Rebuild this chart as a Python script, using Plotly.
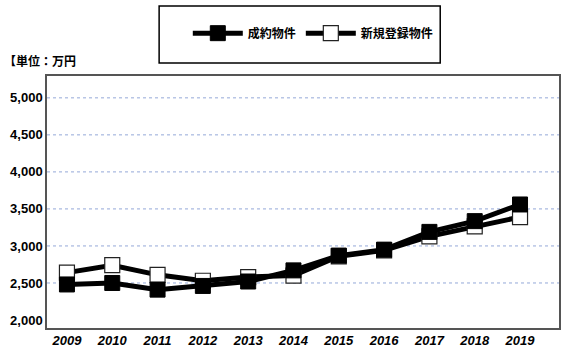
import plotly.graph_objects as go

years = ["2009", "2010", "2011", "2012", "2013", "2014", "2015", "2016", "2017", "2018", "2019"]
contracted = [2480, 2500, 2410, 2460, 2520, 2670, 2870, 2950, 3190, 3335, 3560]
new_listings = [2640, 2740, 2610, 2530, 2580, 2600, 2860, 2940, 3130, 3265, 3390]
y_ticks = [2000, 2500, 3000, 3500, 4000, 4500, 5000]
y_tick_labels = ["2,000", "2,500", "3,000", "3,500", "4,000", "4,500", "5,000"]
name_contracted = "成約物件"
name_new = "新規登録物件"
unit_label = "【単位：万円"

x_idx = list(range(len(years)))

fig = go.Figure()
fig.add_trace(go.Scatter(
    x=x_idx, y=new_listings, name=name_new, mode="lines+markers",
    line=dict(color="black", width=5),
    marker=dict(symbol="square", size=15, color="white", line=dict(color="#222", width=1.2)),
    legendrank=2,
))
fig.add_trace(go.Scatter(
    x=x_idx, y=contracted, name=name_contracted, mode="lines+markers",
    line=dict(color="black", width=5),
    marker=dict(symbol="square", size=15, color="black", line=dict(color="black", width=1)),
    legendrank=1,
))

# dashed gridlines (none at the bottom tick)
for v in y_ticks[1:]:
    fig.add_shape(type="line", xref="paper", yref="y", x0=0, x1=1, y0=v, y1=v,
                  line=dict(color="#94a8d8", width=1, dash="dot"), layer="below")

# legend frame
fig.add_shape(type="rect", xref="paper", yref="paper", x0=0.219, x1=0.768, y0=1.052, y1=1.278,
              line=dict(color="black", width=1.5), fillcolor="rgba(0,0,0,0)")

fig.add_annotation(text=unit_label, xref="paper", yref="paper", x=-0.088, y=1.063,
                   xanchor="left", yanchor="middle", showarrow=False,
                   font=dict(family="Noto Sans CJK JP", size=12, color="black", weight="bold"))

fig.update_layout(
    width=567, height=357, autosize=False,
    margin=dict(l=47, r=8, t=76, b=29, autoexpand=False),
    plot_bgcolor="white", paper_bgcolor="white",
    showlegend=True,
    legend=dict(orientation="h", x=0.275, y=1.17, xanchor="left", yanchor="middle",
                bgcolor="rgba(0,0,0,0)", borderwidth=0, itemwidth=50,
                font=dict(family="Noto Sans CJK JP", size=12, color="black", weight="bold")),
    xaxis=dict(range=[-0.44, 10.86], tickmode="array", tickvals=x_idx, ticktext=years,
               showgrid=False, zeroline=False, showline=True, mirror=True,
               linecolor="#555", linewidth=1.5, ticks="",
               tickfont=dict(family="Liberation Sans", size=13, color="black", weight="bold", style="italic")),
    yaxis=dict(range=[1892, 5295], tickmode="array", tickvals=y_ticks, ticktext=y_tick_labels,
               showgrid=False, zeroline=False, showline=True, mirror=True,
               linecolor="#555", linewidth=1.5, ticks="",
               tickfont=dict(family="Liberation Sans", size=13, color="black", weight="bold")),
)

fig.write_html("out.html", config={"displayModeBar": False},
               post_script="document.body.style.margin='0';")
